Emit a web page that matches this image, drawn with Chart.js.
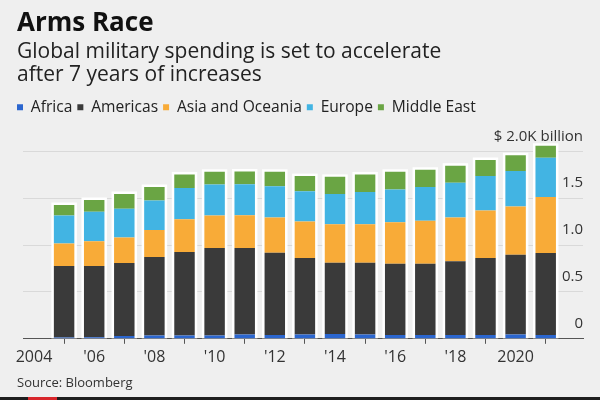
<!DOCTYPE html>
<html>
<head>
<meta charset="utf-8">
<script src="https://cdn.jsdelivr.net/npm/chart.js@4.4.1/dist/chart.umd.min.js"></script>
<style>
  html, body { margin: 0; padding: 0; background: #efefef; }
  #wrap { position: relative; width: 600px; height: 400px; overflow: hidden; }
  canvas { display: block; }
  #strip { position: absolute; left: 0; bottom: 0; width: 600px; height: 3px; background: #1e1e1e; }
  #strip span { position: absolute; left: 28px; width: 29px; height: 3px; background: #d8262b; }
</style>
</head>
<body>
<div id="wrap">
  <canvas id="c" width="600" height="400"></canvas>
  <div id="strip"><span></span></div>
</div>
<script>
// ---- data (values in $ thousand billion) ----
const years = [2005,2006,2007,2008,2009,2010,2011,2012,2013,2014,2015,2016,2017,2018,2019,2020,2021];
const africa   = [0.015,0.017,0.030,0.035,0.035,0.035,0.045,0.040,0.045,0.050,0.045,0.040,0.040,0.040,0.040,0.045,0.040];
const americas = [0.761,0.759,0.779,0.838,0.892,0.935,0.923,0.878,0.817,0.762,0.767,0.761,0.761,0.787,0.823,0.853,0.876];
const asia     = [0.241,0.266,0.273,0.288,0.349,0.345,0.350,0.376,0.389,0.410,0.410,0.442,0.460,0.467,0.506,0.514,0.597];
const europe   = [0.298,0.313,0.305,0.316,0.334,0.331,0.330,0.334,0.323,0.323,0.345,0.349,0.359,0.370,0.367,0.378,0.420];
const mideast  = [0.113,0.126,0.158,0.143,0.144,0.136,0.137,0.154,0.162,0.183,0.187,0.190,0.184,0.183,0.172,0.169,0.126];

const seriesNames = ['Africa','Americas','Asia and Oceania','Europe','Middle East'];
const xTickValues = [2004,2006,2008,2010,2012,2014,2016,2018,2020];
const xTickLabels = ['2004',"'06","'08","'10","'12","'14","'16","'18",'2020'];
const yTickValues = [0,0.5,1.0,1.5,2.0];
const yTickLabels = ['0','0.5','1.0','1.5','$ 2.0K billion'];

const titleText = 'Arms Race';
const subtitleText = ['Global military spending is set to accelerate', 'after 7 years of increases'];
const sourceText = 'Source: Bloomberg';

// ---- styles ----
const colors = ['#2b66cf','#3a3a3a','#f8ab38','#42b4e3','#6aa544'];
const seriesValues = [africa, americas, asia, europe, mideast];

Chart.defaults.font.family = "'Open Sans', sans-serif";

const haloPlugin = {
  id: 'halo',
  beforeDatasetsDraw(chart) {
    const ctx = chart.ctx;
    const metas = chart.getSortedVisibleDatasetMetas();
    ctx.save();
    ctx.fillStyle = '#ffffff';
    for (let i = 0; i < years.length; i++) {
      let top = Infinity, bottom = -Infinity, x = 0, w = 0;
      metas.forEach(m => {
        const el = m.data[i];
        if (!el) return;
        const p = el.getProps(['x','y','base','width'], true);
        top = Math.min(top, p.y, p.base);
        bottom = Math.max(bottom, p.y, p.base);
        x = p.x; w = p.width;
      });
      ctx.fillRect(x - w/2 - 2.5, top - 2.5, w + 5, bottom - top + 2.5);
    }
    ctx.restore();
  }
};

const sourcePlugin = {
  id: 'source',
  afterDraw(chart) {
    const ctx = chart.ctx;
    ctx.save();
    ctx.font = "13px 'Open Sans', sans-serif";
    ctx.fillStyle = '#333';
    ctx.textBaseline = 'middle';
    ctx.textAlign = 'left';
    ctx.fillText(sourceText, 17, 383);
    ctx.restore();
  }
};

// shift legend so its first box sits flush with the title
const legendShift = {
  id: 'legendShift',
  afterLayout(chart) {
    if (chart.legend) { chart.legend.left -= 5; chart.legend.right -= 5; }
  }
};

const datasets = seriesNames.map((name, k) => ({
  label: name,
  data: years.map((yr, i) => ({ x: yr, y: seriesValues[k][i] })),
  backgroundColor: colors[k],
  borderWidth: 0,
  categoryPercentage: 1.0,
  barPercentage: 0.68
}));

const xMin = 2004 - 11 / 30.1;
const xMax = xMin + 560 / 30.1;

new Chart(document.getElementById('c'), {
  type: 'bar',
  data: { datasets },
  plugins: [haloPlugin, sourcePlugin, legendShift],
  options: {
    responsive: false,
    animation: false,
    layout: { padding: { left: 17, right: 17, top: 8, bottom: 29 } },
    plugins: {
      title: {
        display: true, text: titleText, align: 'start', color: '#111',
        font: { size: 26, weight: 'bold', lineHeight: 1.2 },
        padding: { top: 0, bottom: 0 }
      },
      subtitle: {
        display: true, text: subtitleText, align: 'start', color: '#222',
        font: { size: 21, lineHeight: 1.1 },
        padding: { top: 1, bottom: 8 }
      },
      legend: {
        display: true, position: 'top', align: 'start',
        labels: { boxWidth: 6, boxHeight: 6, padding: 5, color: '#222', font: { size: 15.6 } }
      },
      tooltip: { enabled: false }
    },
    scales: {
      x: {
        type: 'linear', min: xMin, max: xMax, offset: false, stacked: true,
        afterBuildTicks: s => { s.ticks = xTickValues.map(v => ({ value: v })); },
        ticks: {
          callback: v => { const i = xTickValues.indexOf(v); return i >= 0 ? xTickLabels[i] : ''; },
          color: '#333', font: { size: 16 }, padding: 4, maxRotation: 0, autoSkip: false
        },
        grid: { drawOnChartArea: false, drawTicks: true, tickLength: 5, tickColor: '#555' },
        border: { display: true, color: '#555', width: 1 }
      },
      y: {
        position: 'right', stacked: true, min: 0, max: 2.1,
        afterBuildTicks: s => { s.ticks = yTickValues.map(v => ({ value: v })); },
        ticks: {
          mirror: true, labelOffset: -15, padding: 0, color: '#333', font: { size: 15 },
          callback: v => { const i = yTickValues.indexOf(v); return i >= 0 ? yTickLabels[i] : ''; }
        },
        grid: { color: '#d9d9d9', drawTicks: false },
        border: { display: false }
      },
      padLeft: {
        type: 'linear', position: 'left', display: true,
        ticks: { display: false }, grid: { display: false }, border: { display: false },
        afterFit: s => { s.width = 6; }
      },
      padTop: {
        type: 'linear', position: 'top', display: true,
        ticks: { display: false }, grid: { display: false }, border: { display: false },
        afterFit: s => { s.height = 17; }
      }
    }
  }
});
</script>
</body>
</html>
